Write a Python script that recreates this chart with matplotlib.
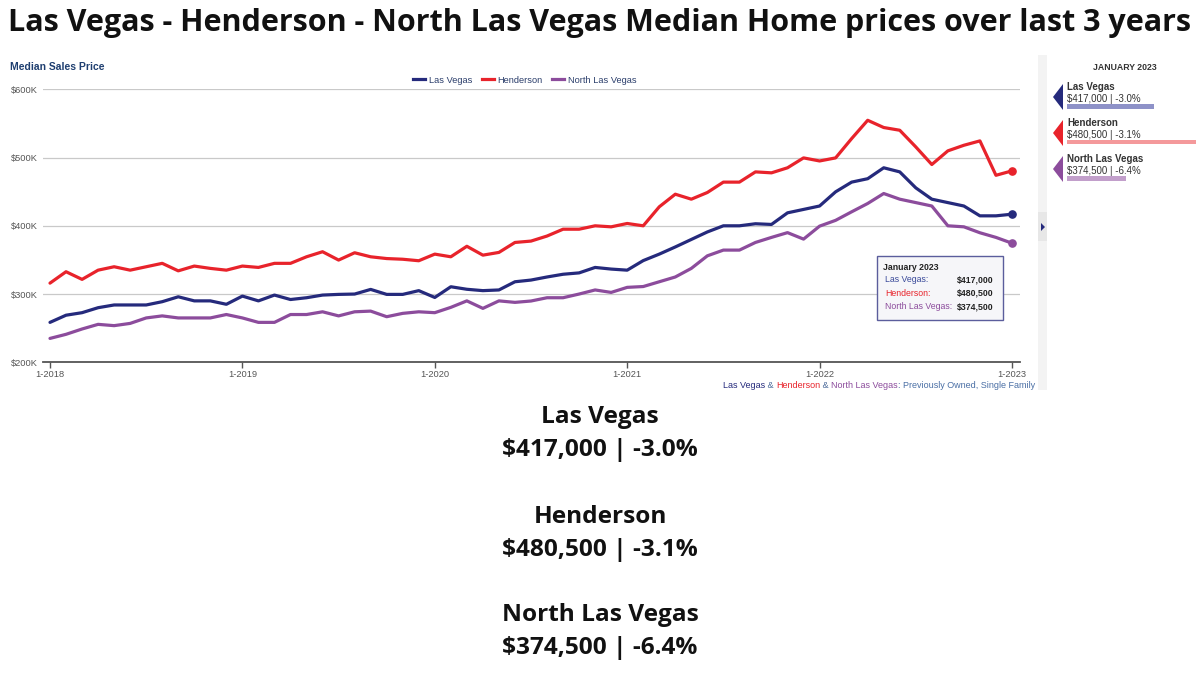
import matplotlib
matplotlib.use('Agg')
import matplotlib.pyplot as plt
from matplotlib.patches import Polygon, Rectangle
from matplotlib.lines import Line2D

# ---------------- data ----------------
title = "Las Vegas - Henderson - North Las Vegas Median Home prices over last 3 years"
series_names = ["Las Vegas", "Henderson", "North Las Vegas"]
tick_labels = ["1-2018", "1-2019", "1-2020", "1-2021", "1-2022", "1-2023"]
y_ticks = [200, 300, 400, 500, 600]  # $K

las_vegas = [258.5, 269, 272.7, 280, 284, 284, 284, 288.8, 296, 290, 290, 285,
             297, 290, 298.5, 292, 294.6, 298.5, 299.5, 300, 306.8, 299.5, 299.5, 305,
             295, 310.7, 307, 305, 306, 318, 320.5, 325, 329, 331, 339, 336.6,
             335, 349, 358.5, 369, 380, 391, 400, 400, 403, 402, 419, 424,
             429, 449.8, 464, 469, 485, 479, 455.6, 439, 434, 429, 414.6, 414.6,
             417]
henderson = [316, 332.7, 321.5, 335, 340, 335, 340, 345, 334, 341, 337.6, 335,
             341, 339, 345, 345, 354.6, 362, 349.8, 360.5, 354.6, 352, 351, 348.8,
             358.5, 354.6, 370, 357, 361, 375.6, 377.6, 385, 395, 395, 400, 398.5,
             403.4, 400, 427.8, 446.3, 439, 448.8, 464, 464, 479, 477.6, 485, 499.5,
             495, 499.5, 527.8, 554.6, 544, 540, 515.6, 489.8, 509.8, 518, 524.4, 474,
             480.5]
north_las_vegas = [235, 241, 248.8, 255.6, 253.7, 257, 265, 268, 265, 265, 265, 270,
                   265, 258.5, 258.5, 270, 270, 274, 268, 274, 275, 266.8, 271.7, 274,
                   272.7, 280.5, 290, 279, 290, 287.8, 289.8, 294.6, 294.6, 300, 306, 302.4,
                   309.8, 311, 318, 325, 337.6, 356, 364.4, 364.4, 375.6, 383, 390, 380.5,
                   399.5, 408, 420.5, 432.7, 447.3, 439, 434, 429, 400, 398.5, 389.8, 383,
                   374.5]
current_label = "January 2023"
current_values = [417000, 480500, 374500]
current_change = [-3.0, -3.1, -6.4]

# ---------------- style ----------------
colors = ["#252a7c", "#e8232b", "#8c4c9c"]
light_colors = ["#8e92c8", "#f4999b", "#c29fcb"]
tip_colors = ["#3a4a9a", "#e8232b", "#8c4c9c"]
CF = "Liberation Sans"
BF = "Open Sans"

W, H = 1200, 674
fig = plt.figure(figsize=(12, 6.74), dpi=100)
fig.patch.set_facecolor("white")

def fx(px):
    return px / W

def fy(py):
    return 1 - py / H

# main chart axes
L, R, T, B = 42.7, 1020, 89.3, 362.3
ax = fig.add_axes([fx(L), fy(B), fx(R - L), (B - T) / H])
ax.patch.set_alpha(0)
x = list(range(len(las_vegas)))
for vals, c, n in zip([las_vegas, henderson, north_las_vegas], colors, series_names):
    ax.plot(x, vals, color=c, lw=2.3, solid_joinstyle="round", solid_capstyle="round", label=n, zorder=3)
    ax.plot(x[-1], vals[-1], "o", color=c, ms=5.2, zorder=4)
ax.set_xlim(-0.455, 60.5)
ax.set_ylim(y_ticks[0], y_ticks[-1])
ax.set_yticks(y_ticks)
ax.set_yticklabels([f"${v}K" for v in y_ticks], fontfamily=CF, fontsize=6.7, color="#555555")
ax.set_xticks(list(range(0, len(x), 12)))
ax.set_xticklabels(tick_labels, fontfamily=CF, fontsize=6.7, color="#555555")
ax.grid(axis="y", color="#c9c9c9", lw=0.9)
ax.set_axisbelow(True)
for s in ["top", "right", "left"]:
    ax.spines[s].set_visible(False)
ax.spines["bottom"].set_color("#555555")
ax.spines["bottom"].set_linewidth(1.3)
ax.tick_params(axis="y", length=0, pad=3.5)
ax.tick_params(axis="x", length=4, width=1, color="#555555", pad=1.5)

handles = [Line2D([0], [0], color=c, lw=2.3) for c in colors]
leg = ax.legend(handles, series_names, loc="center", bbox_to_anchor=(0.4935, 1.034), ncol=3,
                frameon=False, prop={"family": CF, "size": 6.7}, handlelength=1.3,
                handletextpad=0.4, columnspacing=1.0, borderaxespad=0)
for t in leg.get_texts():
    t.set_color("#2b3e6b")

# overlay in pixel coordinates (on top)
ov = fig.add_axes([0, 0, 1, 1])
ov.set_xlim(0, W)
ov.set_ylim(H, 0)
ov.axis("off")
ov.patch.set_alpha(0)

# title
ov.text(600, 23, title, ha="center", va="center", fontfamily=BF, fontweight="bold",
        fontsize=22, color="#111111")

ov.text(10, 67, "Median Sales Price", ha="left", va="center", fontfamily=CF,
        fontweight="bold", fontsize=7.5, color="#1f3f70")

# tooltip
ov.add_patch(Rectangle((877, 256), 126, 64, facecolor="#f6f6f9", edgecolor="#5b5d9c", lw=1, zorder=5))
ov.text(883, 267, current_label, ha="left", va="center", fontfamily=CF, fontweight="bold",
        fontsize=6.3, color="#222222", zorder=6)
for i, (n, v) in enumerate(zip(series_names, current_values)):
    yy = 280 + i * 13.3
    ov.text(885, yy, n + ":", ha="left", va="center", fontfamily=CF, fontsize=6.3,
            color=tip_colors[i], zorder=6)
    ov.text(994, yy, f"${v:,}", ha="right", va="center", fontfamily=CF, fontweight="bold",
            fontsize=6.3, color="#222222", zorder=6)

# footnote, multi coloured, right aligned
pieces = [("Las Vegas", colors[0]), (" & ", "#4a6a9a"), ("Henderson", colors[1]), (" & ", "#4a6a9a"),
          ("North Las Vegas", colors[2]), (": Previously Owned, Single Family", "#4a6fa5")]
fig.canvas.draw()
rend = fig.canvas.get_renderer()
xr = 1035
for txt, c in reversed(pieces):
    t = ov.text(xr, 385, txt, ha="right", va="center", fontfamily=CF, fontsize=6.5, color=c)
    bb = t.get_window_extent(renderer=rend)
    xr -= bb.width

# grey scroll strip
ov.add_patch(Rectangle((1038, 55), 9, 335, facecolor="#f3f3f3", edgecolor="none"))
ov.add_patch(Rectangle((1038, 212), 9, 29, facecolor="#e7e7e7", edgecolor="none"))
ov.add_patch(Polygon([(1041, 223), (1041, 231), (1045, 227)], closed=True, facecolor=colors[0], edgecolor="none"))

# right panel
ov.text(1125, 68, current_label.upper(), ha="center", va="center", fontfamily=CF,
        fontweight="bold", fontsize=6.3, color="#333333")
base_y = [84, 120, 156]
for i, (n, v, ch) in enumerate(zip(series_names, current_values, current_change)):
    y0 = base_y[i]
    ov.add_patch(Polygon([(1063, y0), (1063, y0 + 26), (1053, y0 + 13)], closed=True,
                         facecolor=colors[i], edgecolor="none"))
    ov.text(1067, y0 + 3.5, n, ha="left", va="center", fontfamily=CF, fontweight="bold",
            fontsize=7, color="#333333")
    ov.text(1067, y0 + 14.5, f"${v:,} | {ch:.1f}%", ha="left", va="center", fontfamily=CF,
            fontsize=7, color="#333333")

# bars in panel: scaled from value
bax = fig.add_axes([fx(1067), 0, fx(1196 - 1067), 1])
bax.set_ylim(H, 0)
bax.set_xlim(285400, 480600)
bax.axis("off")
bax.patch.set_alpha(0)
bar_y = [106.5, 142, 178.3]
bax.barh(bar_y, [v - 285400 for v in current_values], left=285400, height=4.8,
         color=light_colors)

# bottom summary text
sum_y = [417, 517, 615]
for i, (n, v, ch) in enumerate(zip(series_names, current_values, current_change)):
    ov.text(600, sum_y[i], n, ha="center", va="center", fontfamily=BF, fontweight="bold",
            fontsize=17.6, color="#111111")
    ov.text(600, sum_y[i] + 33, f"${v:,} | {ch:.1f}%", ha="center", va="center", fontfamily=BF,
            fontweight="bold", fontsize=17.6, color="#111111")

fig.savefig("out.png", dpi=100, facecolor="white")
